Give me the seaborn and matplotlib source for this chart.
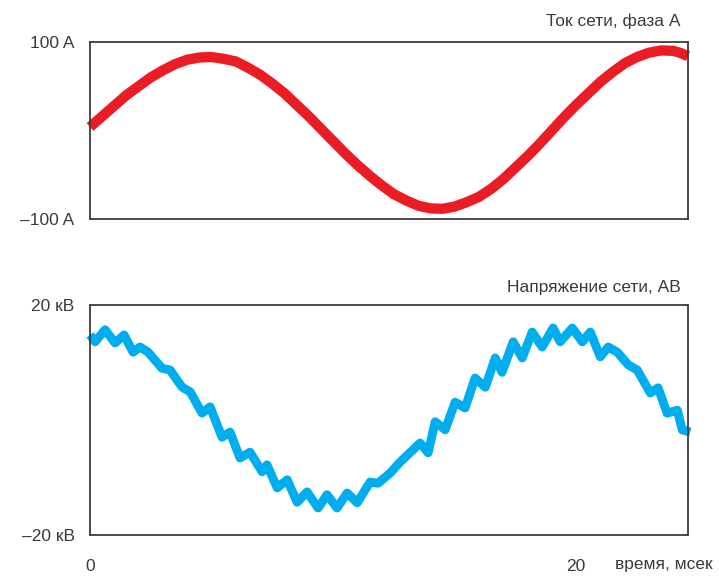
import matplotlib
matplotlib.use("Agg")
import matplotlib.pyplot as plt
import seaborn as sns
import pandas as pd

# Phase A current, amperes, sampled every half millisecond
current_t = [0, 0.5, 1, 1.5, 2, 2.5, 3, 3.5, 4, 4.5, 5, 5.5, 6, 6.5, 7, 7.5, 8,
             8.5, 9, 9.5, 10, 10.5, 11, 11.5, 12, 12.5, 13, 13.5, 14, 14.5, 15,
             15.5, 16, 16.5, 17, 17.5, 18, 18.5, 19, 19.5, 20, 20.5, 21, 21.5, 22,
             22.5, 23, 23.5, 24, 24.3, 24.6]
current_a = [4, 16, 28, 40, 50, 60, 68, 75, 80, 82.5, 83, 81, 78, 71, 63, 53, 42,
             29, 16, 2, -12, -26, -39, -51, -62, -72, -79, -85, -88, -88.5, -86,
             -81, -75, -66, -55, -42, -29, -15, 0, 15, 29, 42, 55, 66, 76, 83, 88,
             90.5, 90, 87.5, 84]

# Line voltage AB, kilovolts
voltage_t = [0, 0.21, 0.62, 1.03, 1.40, 1.77, 2.06, 2.39, 2.96, 3.29, 3.79, 4.12,
             4.61, 4.94, 5.43, 5.76, 6.17, 6.58, 7.08, 7.28, 7.70, 8.11, 8.52, 8.93,
             9.38, 9.75, 10.16, 10.58, 10.99, 11.52, 11.85, 12.35, 12.76, 13.58,
             13.91, 14.20, 14.61, 15.02, 15.43, 15.84, 16.26, 16.67, 16.95, 17.41,
             17.78, 18.19, 18.60, 19.05, 19.34, 19.84, 20.25, 20.58, 20.99, 21.32,
             21.69, 22.14, 22.51, 23.05, 23.37, 23.74, 24.16, 24.36, 24.69]
voltage_kv = [14.8, 13.6, 15.7, 13.4, 14.8, 11.8, 12.7, 11.8, 9.0, 8.7, 5.7, 4.9,
              1.2, 2.3, -3.0, -2.1, -6.6, -5.6, -9.0, -7.8, -11.8, -10.4, -14.3,
              -12.5, -15.3, -13.0, -15.3, -12.7, -14.4, -10.8, -11.0, -9.2, -7.3,
              -4.0, -5.7, -0.3, -1.7, 3.1, 2.1, 7.3, 5.7, 10.8, 8.3, 13.6, 10.8,
              15.3, 12.7, 16.0, 13.6, 16.0, 13.6, 15.3, 11.0, 12.7, 11.8, 9.6, 8.7,
              4.7, 5.6, 1.2, 1.7, -1.7, -2.1]

current_ticks = [-100, 100]
current_labels = ["\u2013100 A", "100 A"]
voltage_ticks = [-20, 20]
voltage_labels = ["\u201320 \u043a\u0412", "20 \u043a\u0412"]
time_ticks = [0, 20]
time_labels = ["0", "20"]

sns.set_style("white")
plt.rcParams["font.family"] = ["Liberation Sans", "DejaVu Sans"]

TEXT = "#3a3a3a"
RED = "#ec1c24"
BLUE = "#00aeef"
FS = 12.5

fig = plt.figure(figsize=(7.19, 5.81), dpi=100)
ax1 = fig.add_axes([0.1252, 0.6231, 0.8317, 0.3046])
ax2 = fig.add_axes([0.1252, 0.0792, 0.8317, 0.3958])

cur = pd.DataFrame({"t": current_t, "i": current_a})
vol = pd.DataFrame({"t": voltage_t, "u": voltage_kv})

sns.lineplot(data=cur, x="t", y="i", ax=ax1, color=RED, linewidth=7.4,
             estimator=None, solid_capstyle="butt", solid_joinstyle="round",
             clip_on=False)
sns.lineplot(data=vol, x="t", y="u", ax=ax2, color=BLUE, linewidth=6.4,
             estimator=None, solid_capstyle="butt", solid_joinstyle="round",
             clip_on=False)

ax1.set_ylim(-100, 100)
ax2.set_ylim(-20, 20)
for ax in (ax1, ax2):
    ax.set_xlim(0, 24.6)
    ax.set_xlabel("")
    ax.set_ylabel("")
    for s in ax.spines.values():
        s.set_color("#3c3c3c")
        s.set_linewidth(1.3)
    ax.tick_params(length=0, labelsize=FS, colors=TEXT)
    ax.tick_params(axis="y", pad=11)

ax1.set_yticks(current_ticks)
ax1.set_yticklabels(current_labels)
ax1.set_xticks([])
ax1.set_xticklabels([])

ax2.set_yticks(voltage_ticks)
ax2.set_yticklabels(voltage_labels)
ax2.set_xticks(time_ticks)
ax2.set_xticklabels(time_labels)
ax2.tick_params(axis="x", pad=17)

ax1.text(0.988, 1.12, "\u0422\u043e\u043a \u0441\u0435\u0442\u0438, \u0444\u0430\u0437\u0430 \u0410",
         transform=ax1.transAxes, ha="right", va="center", fontsize=FS, color=TEXT)
ax2.text(0.988, 1.075, "\u041d\u0430\u043f\u0440\u044f\u0436\u0435\u043d\u0438\u0435 \u0441\u0435\u0442\u0438, \u0410\u0412",
         transform=ax2.transAxes, ha="right", va="center", fontsize=FS, color=TEXT)
fig.text(713 / 719, 1 - 565 / 581, "\u0432\u0440\u0435\u043c\u044f, \u043c\u0441\u0435\u043a",
         ha="right", va="center", fontsize=FS, color=TEXT)

fig.savefig("out.png", dpi=100)
